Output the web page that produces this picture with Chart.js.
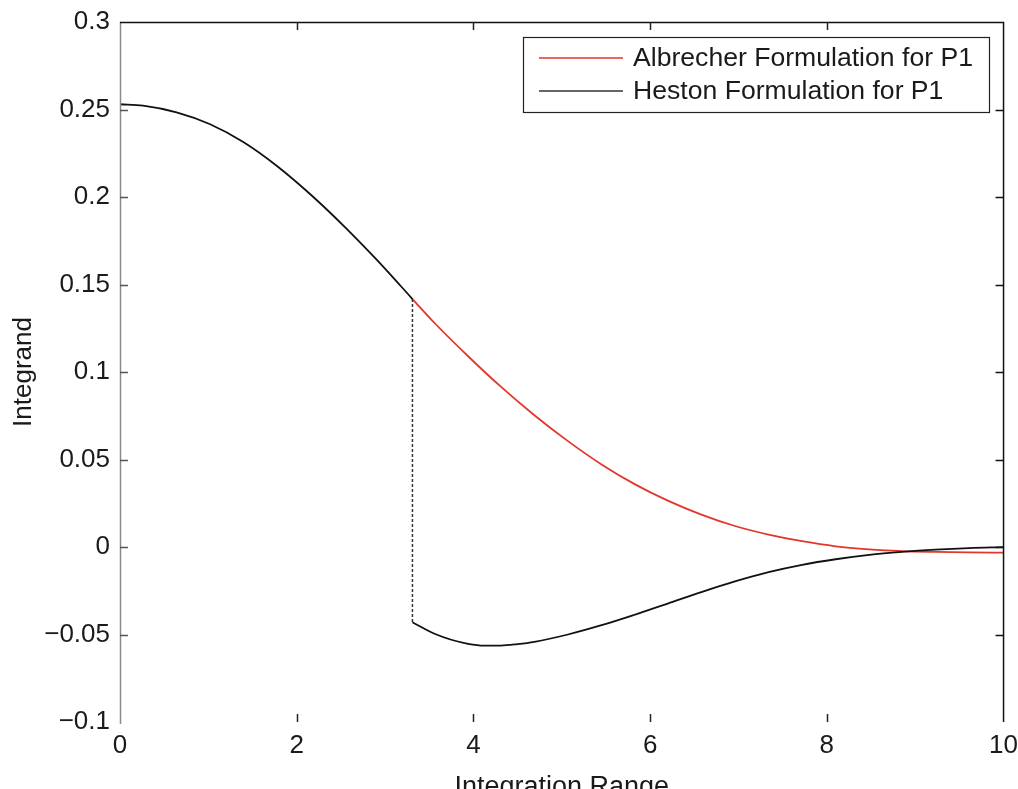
<!DOCTYPE html>
<html>
<head>
<meta charset="utf-8">
<script src="https://cdn.jsdelivr.net/npm/chart.js@4.4.1/dist/chart.umd.min.js"></script>
<style>
  html, body { margin: 0; padding: 0; background: #fff; }
  canvas { display: block; }
</style>
</head>
<body>
<canvas id="integrandChart" width="1018" height="789"></canvas>
<script>
// Heston formulation, before the branch-cut jump
const hestonX1 = [0, 0.26, 0.64, 1.02, 1.40, 1.78, 2.16, 2.54, 2.91, 3.18, 3.31];
const hestonY1 = [0.2530, 0.2522, 0.2484, 0.2416, 0.2313, 0.2176, 0.2013, 0.1831, 0.1639, 0.1490, 0.1417];
// Heston formulation, after the jump
const hestonX2 = [3.31, 3.56, 3.75, 3.94, 4.12, 4.31, 4.50, 4.69, 5.07, 5.45, 5.83, 6.20, 6.58, 6.96, 7.34, 7.72, 8.10, 8.48, 8.85, 9.23, 9.61, 10];
const hestonY2 = [-0.0430, -0.0496, -0.0530, -0.0553, -0.0563, -0.0563, -0.0555, -0.0542, -0.0500, -0.0447, -0.0386, -0.0323, -0.0258, -0.0197, -0.0144, -0.0102, -0.0070, -0.0045, -0.0028, -0.0015, -0.0006, -0.0001];
// Albrecher formulation (identical to Heston before the jump)
const albrecherX = [3.31, 3.56, 3.94, 4.31, 4.69, 5.07, 5.45, 5.83, 6.20, 6.58, 6.96, 7.34, 7.72, 8.10, 8.48, 8.85, 9.23, 9.61, 10];
const albrecherY = [0.1417, 0.1280, 0.1090, 0.0916, 0.0753, 0.0605, 0.0472, 0.0358, 0.0265, 0.0185, 0.0120, 0.0071, 0.0033, 0.0004, -0.0013, -0.0023, -0.0028, -0.0031, -0.0032];

const legendLabels = ["Albrecher Formulation for P1", "Heston Formulation for P1"];
const xTitle = "Integration Range";
const yTitle = "Integrand";

const RED = "#e2372c";
const BLACK = "#111111";

function pts(xs, ys) {
    return xs.map((x, i) => ({ x: x, y: ys[i] }));
}

// jump connector: last point of first Heston piece to first of the second
const jumpData = [
    { x: hestonX1[hestonX1.length - 1], y: hestonY1[hestonY1.length - 1] },
    { x: hestonX2[0], y: hestonY2[0] },
];

const frameAndLegend = {
    id: "frameAndLegend",
    afterDraw(chart) {
        const { ctx, chartArea: a, scales } = chart;
        const xs = scales.x, ys = scales.y;
        ctx.save();
        ctx.lineWidth = 1.5;

        // left axis (grey), top and right (black), no bottom line
        ctx.strokeStyle = "#8a8a8a";
        ctx.beginPath();
        ctx.moveTo(a.left + 0.5, a.top);
        ctx.lineTo(a.left + 0.5, a.bottom + 2);
        ctx.stroke();
        ctx.strokeStyle = "#111";
        ctx.beginPath();
        ctx.moveTo(a.left, a.top + 0.5);
        ctx.lineTo(a.right, a.top + 0.5);
        ctx.lineTo(a.right, a.bottom);
        ctx.stroke();

        // inward ticks
        const tl = 8;
        ys.ticks.forEach(t => {
            const y = Math.round(ys.getPixelForValue(t.value)) + 0.5;
            if (y < a.top + 2 || y > a.bottom - 2) return;
            ctx.strokeStyle = "#555";
            ctx.beginPath();
            ctx.moveTo(a.left, y); ctx.lineTo(a.left + tl, y);
            ctx.stroke();
            ctx.strokeStyle = "#111";
            ctx.beginPath();
            ctx.moveTo(a.right, y); ctx.lineTo(a.right - tl, y);
            ctx.stroke();
        });
        ctx.strokeStyle = "#222";
        xs.ticks.forEach(t => {
            const x = Math.round(xs.getPixelForValue(t.value)) + 0.5;
            if (x < a.left + 2 || x > a.right - 2) return;
            ctx.beginPath();
            ctx.moveTo(x, a.top); ctx.lineTo(x, a.top + tl);
            ctx.moveTo(x, a.bottom); ctx.lineTo(x, a.bottom - tl);
            ctx.stroke();
        });

        // legend box
        const bx = 523, by = 37, bw = 466, bh = 75;
        ctx.fillStyle = "#fff";
        ctx.fillRect(bx, by, bw, bh);
        ctx.strokeStyle = "#222";
        ctx.lineWidth = 1.2;
        ctx.strokeRect(bx + 0.5, by + 0.5, bw, bh);
        const rows = [
            { label: legendLabels[0], color: RED, y: 58 },
            { label: legendLabels[1], color: "#333", y: 91 },
        ];
        ctx.font = "26.6px 'Liberation Sans', Arial, sans-serif";
        ctx.textBaseline = "middle";
        ctx.textAlign = "left";
        rows.forEach(r => {
            ctx.strokeStyle = r.color;
            ctx.lineWidth = 1.5;
            ctx.beginPath();
            ctx.moveTo(539, r.y); ctx.lineTo(623, r.y);
            ctx.stroke();
            ctx.fillStyle = "#1a1a1a";
            ctx.fillText(r.label, 633, r.y + 1);
        });
        ctx.restore();
    },
};

new Chart(document.getElementById("integrandChart"), {
    type: "line",
    data: {
        datasets: [
            {
                label: legendLabels[0],
                data: pts(albrecherX, albrecherY),
                borderColor: RED,
                borderWidth: 1.8,
                pointRadius: 0,
                cubicInterpolationMode: "monotone",
                order: 2,
            },
            {
                label: legendLabels[1],
                data: pts(hestonX1, hestonY1),
                borderColor: BLACK,
                borderWidth: 1.8,
                pointRadius: 0,
                cubicInterpolationMode: "monotone",
                order: 1,
            },
            {
                label: legendLabels[1] + " (jump)",
                data: jumpData,
                borderColor: "#333",
                borderWidth: 1.5,
                borderDash: [3, 2],
                pointRadius: 0,
                tension: 0,
                order: 1,
            },
            {
                label: legendLabels[1],
                data: pts(hestonX2, hestonY2),
                borderColor: BLACK,
                borderWidth: 1.8,
                pointRadius: 0,
                cubicInterpolationMode: "monotone",
                order: 0,
            },
        ],
    },
    options: {
        responsive: false,
        animation: false,
        layout: { padding: { top: 22, right: 5, left: 0, bottom: 0 } },
        scales: {
            x: {
                type: "linear",
                min: 0,
                max: 10,
                grid: { display: false },
                border: { display: false },
                afterFit(scale) { scale.height = 67; },
                ticks: {
                    stepSize: 2,
                    padding: 0,
                    color: "#1a1a1a",
                    maxRotation: 0,
                    font: { family: "'Liberation Sans', Arial", size: 26 },
                },
                title: {
                    display: true,
                    text: xTitle,
                    color: "#1a1a1a",
                    padding: { top: 0, bottom: -15 },
                    font: { family: "'Liberation Sans', Arial", size: 27 },
                },
            },
            y: {
                min: -0.1,
                max: 0.3,
                grid: { display: false },
                border: { display: false },
                afterFit(scale) { scale.width = 120; },
                ticks: {
                    stepSize: 0.05,
                    padding: 2,
                    color: "#1a1a1a",
                    font: { family: "'Liberation Sans', Arial", size: 26 },
                    callback: v => String(+v.toFixed(2)).replace("-", "\u2212"),
                },
                title: {
                    display: true,
                    text: yTitle,
                    color: "#1a1a1a",
                    padding: { top: 8, bottom: 0 },
                    font: { family: "'Liberation Sans', Arial", size: 26 },
                },
            },
        },
        plugins: {
            legend: { display: false },
            tooltip: { enabled: false },
        },
    },
    plugins: [frameAndLegend],
});
</script>
</body>
</html>
